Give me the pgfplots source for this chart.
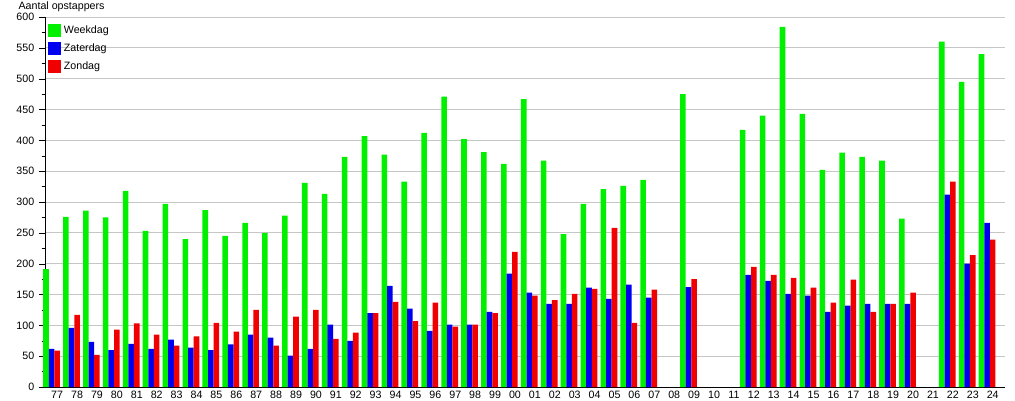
\documentclass[border=0pt]{standalone}
\usepackage{pgfplots}
\pgfplotsset{compat=1.18}
\usepackage{pgfplotstable}
\usepackage{fontspec}
\setmainfont{Liberation Sans}
\definecolor{cgreen}{RGB}{0,240,0}
\definecolor{cblue}{RGB}{0,0,240}
\definecolor{cred}{RGB}{240,0,0}
% x: index 0 = 1977 ... 47 = 2024 ; nan = no data
\pgfplotstableread{
x  week zat zon
0  191  62  59
1  276  96  117
2  286  73  52
3  275  60  93
4  318  70  103
5  253  62  85
6  297  77  67
7  240  64  82
8  287  60  104
9  245  69  90
10 266  85  125
11 250  80  67
12 278  51  114
13 331  62  125
14 313  101 78
15 373  75  88
16 407  120 120
17 377  164 138
18 333  127 107
19 412  91  137
20 471  101 98
21 402  101 101
22 381  122 120
23 362  184 219
24 467  153 148
25 367  135 141
26 248  135 151
27 297  161 159
28 321  143 258
29 326  166 104
30 336  145 158
31 nan  nan nan
32 475  162 175
33 nan  nan nan
34 nan  nan nan
35 417  182 195
36 440  172 182
37 584  151 177
38 443  148 161
39 352  122 137
40 380  132 174
41 373  135 122
42 367  135 135
43 273  135 153
44 nan  nan nan
45 560  312 333
46 495  200 214
47 540  266 239
}\data
\begin{document}
\begin{tikzpicture}
\begin{axis}[
  name=ax,
  scale only axis,
  width=720pt, height=277.5pt,
  ybar=0pt, bar width=0.28,
  xmin=-0.33, xmax=47.9,
  ymin=0, ymax=600,
  ytick={0,50,...,600},
  minor y tick num=1,
  xtick={0,...,47},
  xticklabels={77,78,79,80,81,82,83,84,85,86,87,88,89,90,91,92,93,94,95,96,97,98,99,00,01,02,03,04,05,06,07,08,09,10,11,12,13,14,15,16,17,18,19,20,21,22,23,24},
  xticklabel style={xshift=4.2pt, yshift=1.5pt, inner sep=0pt, font=\fontsize{8pt}{9pt}\selectfont},
  yticklabel style={font=\fontsize{8pt}{9pt}\selectfont},
  /pgf/number format/assume math mode=true,
  axis x line*=bottom, axis y line*=left,
  axis line style={-, black},
  xtick style={draw=none},
  ytick style={black},
  tick align=outside,
  major tick length=4.5pt, minor tick length=2.5pt,
  ymajorgrids, grid style={gray!45, line width=0.6pt},
  unbounded coords=jump,
  legend style={at={(0.003,0.985)}, anchor=north west, draw=none, fill=none,
    font=\fontsize{8pt}{9pt}\selectfont, row sep=2.4pt, inner sep=0pt},
  legend cell align=left,
  legend image code/.code={\fill[#1] (0pt,-4.9pt) rectangle (9.8pt,4.9pt);},
  clip=false,
]
\addplot[fill=cgreen, draw=none] table[x=x, y=week] {\data};
\addplot[fill=cblue, draw=none] table[x=x, y=zat] {\data};
\addplot[fill=cred, draw=none] table[x=x, y=zon] {\data};
\legend{Weekdag, Zaterdag, Zondag}
\node[anchor=south west, font=\fontsize{8pt}{9pt}\selectfont, inner sep=0pt] at ([xshift=-20pt, yshift=3.5pt]rel axis cs:0,1) {Aantal opstappers};
\end{axis}
\pgfresetboundingbox
\path ([xshift=-33.75pt, yshift=-9.75pt]ax.south west) rectangle ([xshift=7.5pt, yshift=12.75pt]ax.north east);
\end{tikzpicture}
\end{document}
